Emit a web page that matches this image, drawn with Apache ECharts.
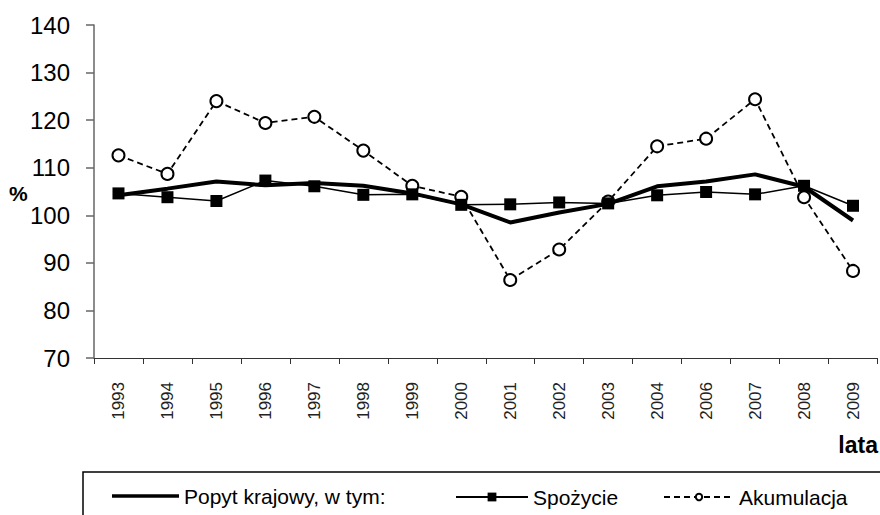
<!DOCTYPE html>
<html>
<head>
<meta charset="utf-8">
<script src="https://cdn.jsdelivr.net/npm/echarts@6/dist/echarts.min.js"></script>
<style>html,body{margin:0;padding:0;background:#fff}#c{width:880px;height:515px}</style>
</head>
<body>
<div id="c"></div>
<script>
const years = ['1993','1994','1995','1996','1997','1998','1999','2000','2001','2002','2003','2004','2006','2007','2008','2009'];
const popytKrajowy = [104.2,105.6,107.1,106.3,106.8,106.2,104.6,102.3,98.5,100.6,102.4,106.1,107.1,108.6,106.0,98.9];
const spozycie = [104.6,103.8,103.0,107.3,106.1,104.3,104.4,102.2,102.3,102.7,102.5,104.2,104.9,104.4,106.2,102.0];
const akumulacja = [112.6,108.7,124.0,119.4,120.7,113.6,106.2,103.9,86.4,92.8,102.9,114.5,116.1,124.4,103.8,88.3];
const yTicks = {min:70, max:140, interval:10};
const names = ['Popyt krajowy, w tym:','Spożycie','Akumulacja'];

const font = 'Liberation Sans, Arial, sans-serif';
const chart = echarts.init(document.getElementById('c'), null, {renderer:'svg'});
const legendBase = {
  orient:'horizontal', padding:0, top:486, itemGap:0,
  textStyle:{fontFamily:font, fontSize:21, color:'#000', lineHeight:22},
  inactiveColor:'#000'
};
chart.setOption({
  animation:false,
  backgroundColor:'#fff',
  grid:{left:94, right:2.5, top:25, bottom:157, containLabel:false},
  xAxis:{
    type:'category', data:years, boundaryGap:true,
    axisLine:{lineStyle:{color:'#333', width:1}},
    axisTick:{show:true, length:6, alignWithLabel:false, lineStyle:{color:'#333'}},
    axisLabel:{rotate:90, margin:24, fontFamily:font, fontSize:17, color:'#222'}
  },
  yAxis:{
    type:'value', min:yTicks.min, max:yTicks.max, interval:yTicks.interval,
    splitLine:{show:false},
    axisLine:{show:true, lineStyle:{color:'#666', width:1.5}},
    axisTick:{show:true, inside:false, length:8, lineStyle:{color:'#666', width:1.5}},
    axisLabel:{margin:24, fontFamily:font, fontSize:24, color:'#000'}
  },
  legend:[
    Object.assign({}, legendBase, {left:112, data:[{name:names[0], icon:'rect'}], itemWidth:67, itemHeight:3.5, top:485}),
    Object.assign({}, legendBase, {left:455, data:[names[1]], itemWidth:72, itemHeight:11}),
    Object.assign({}, legendBase, {left:663, data:[names[2]], itemWidth:70, itemHeight:8})
  ],
  graphic:[
    {type:'text', left:9, top:183, style:{text:'%', fontFamily:font, fontSize:21, fontWeight:'bold', fill:'#000'}},
    {type:'text', right:2, top:433, style:{text:'lata', fontFamily:font, fontSize:23, fontWeight:'bold', fill:'#000'}},
    {type:'rect', shape:{x:83, y:472, width:820, height:60}, style:{fill:'none', stroke:'#000', lineWidth:1.5}, silent:true, z:-1}
  ],
  series:[
    {name:names[2], type:'line', data:akumulacja, symbol:'emptyCircle', symbolSize:12,
     itemStyle:{color:'#000', borderColor:'#000', borderWidth:1},
     lineStyle:{color:'#000', width:1.8, type:[6,4]}, z:2},
    {name:names[0], type:'line', data:popytKrajowy, symbol:'none',
     itemStyle:{color:'#000'}, lineStyle:{color:'#000', width:4}, z:3},
    {name:names[1], type:'line', data:spozycie, symbol:'rect', symbolSize:12,
     itemStyle:{color:'#000'}, lineStyle:{color:'#000', width:1.5}, z:4}
  ]
});
</script>
</body>
</html>
